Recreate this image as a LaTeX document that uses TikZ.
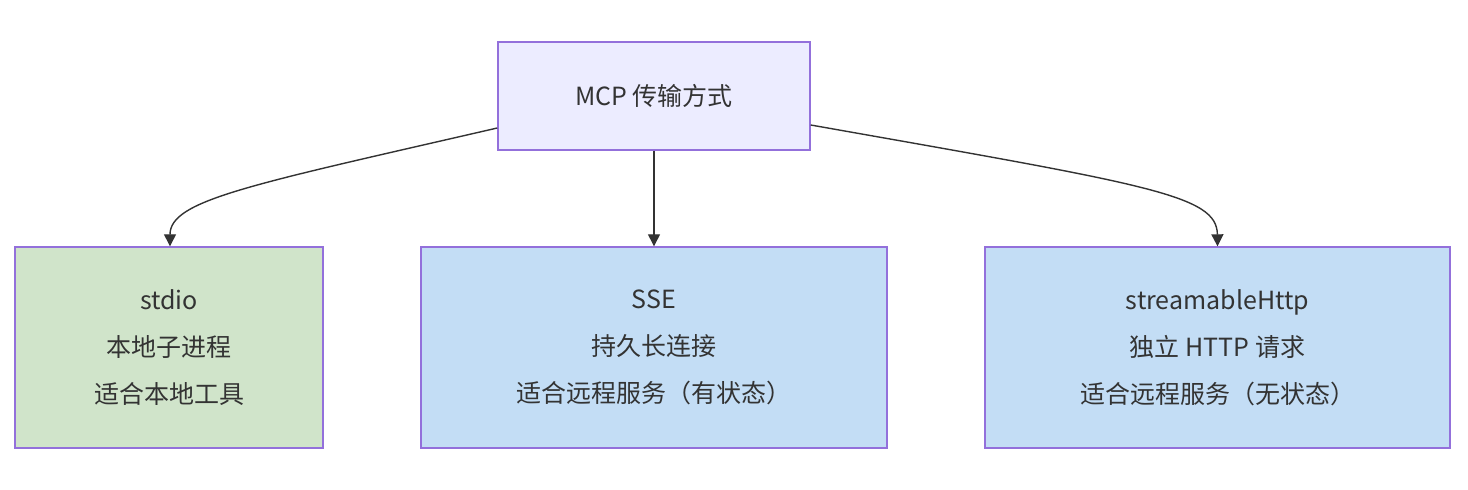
\documentclass[tikz,border=0pt]{standalone}
\usepackage{fontspec}
\setmainfont{Noto Sans CJK SC}
\usetikzlibrary{arrows.meta}
\definecolor{topfill}{HTML}{ECECFF}
\definecolor{bord}{HTML}{9370DB}
\definecolor{greenf}{HTML}{D0E4CA}
\definecolor{bluef}{HTML}{C3DDF5}
\definecolor{txt}{HTML}{333333}
\begin{document}
\begin{tikzpicture}[x=0.5pt,y=-0.5pt,
  box/.style={draw=bord,line width=0.7pt,inner sep=0,font=\fontsize{12.5}{23.5}\selectfont,text=txt,align=center},
  arr/.style={draw=txt,line width=0.7pt,-{Triangle[length=6pt,width=6pt]}}]
\useasboundingbox (0,0) rectangle (1468,490);
\node[box,fill=topfill,minimum width=156pt,minimum height=54pt] (top) at (654,96) {MCP 传输方式};
\node[box,fill=greenf,minimum width=154pt,minimum height=100.5pt] (a) at (169,347.5) {stdio\\本地子进程\\适合本地工具};
\node[box,fill=bluef,minimum width=233pt,minimum height=100.5pt] (b) at (654,347.5) {SSE\\持久长连接\\适合远程服务（有状态）};
\node[box,fill=bluef,minimum width=232.5pt,minimum height=100.5pt] (c) at (1217.5,347.5) {streamableHttp\\独立 HTTP 请求\\适合远程服务（无状态）};
\draw[arr] (top.west|-0,128) .. controls (250,185) and (170,200) .. (a.north-|170,0);
\draw[arr] (top.south) -- (b.north);
\draw[arr] (top.east|-0,125) .. controls (1150,185) and (1217,195) .. (c.north);
\end{tikzpicture}
\end{document}
